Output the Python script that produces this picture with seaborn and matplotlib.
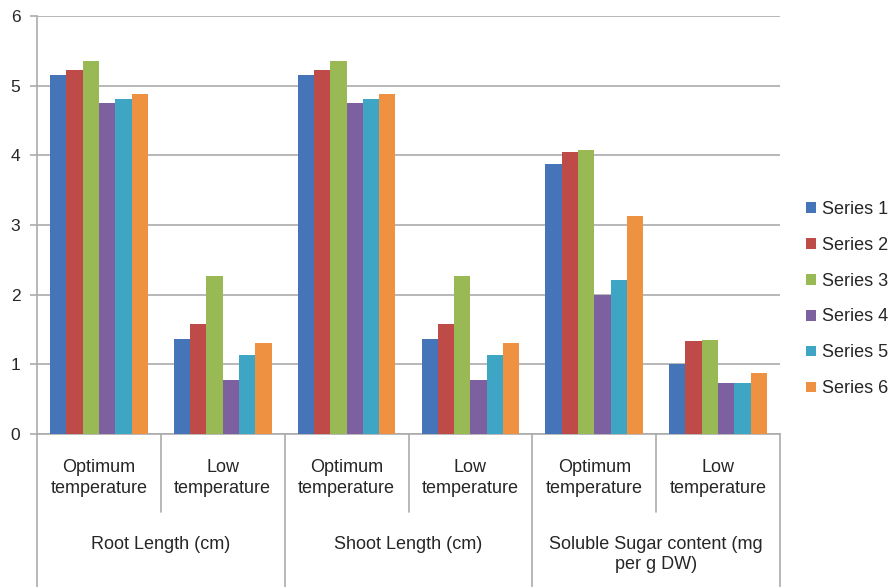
import numpy as np
import pandas as pd
import matplotlib
matplotlib.use("Agg")
import matplotlib.pyplot as plt
import matplotlib.transforms as mtransforms
import seaborn as sns

# Data
groups = ["Root Length (cm)", "Shoot Length (cm)", "Soluble Sugar content (mg\nper g DW)"]
conditions = ["Optimum\ntemperature", "Low\ntemperature"]
series_names = ["Series 1", "Series 2", "Series 3", "Series 4", "Series 5", "Series 6"]

series_1 = [5.16, 1.37, 5.16, 1.37, 3.87, 1.00]
series_2 = [5.22, 1.58, 5.22, 1.58, 4.05, 1.33]
series_3 = [5.35, 2.27, 5.35, 2.27, 4.07, 1.35]
series_4 = [4.75, 0.77, 4.75, 0.77, 2.00, 0.73]
series_5 = [4.81, 1.13, 4.81, 1.13, 2.21, 0.73]
series_6 = [4.88, 1.30, 4.88, 1.30, 3.13, 0.88]

colors = ["#4575B8", "#BE4B48", "#98B954", "#7D60A0", "#3EA6C4", "#EE9140"]

# Build long-form table
categories = [f"{g}|{c}" for g in groups for c in conditions]
all_series = [series_1, series_2, series_3, series_4, series_5, series_6]
rows = []
for name, vals in zip(series_names, all_series):
    for cat, v in zip(categories, vals):
        rows.append({"category": cat, "series": name, "value": v})
df = pd.DataFrame(rows)

sns.set_style("white")
plt.rcParams["font.family"] = ["Liberation Sans", "DejaVu Sans"]

W, H = 893, 587
left, right, top, bottom = 37, 780, 16, 434
fig = plt.figure(figsize=(W / 100, H / 100), dpi=100)
ax = fig.add_axes([left / W, 1 - bottom / H, (right - left) / W, (bottom - top) / H])

sns.barplot(data=df, x="category", y="value", hue="series", order=categories,
            hue_order=series_names, palette=colors, saturation=1, width=0.79,
            errorbar=None, linewidth=0, ax=ax, zorder=3)

grid_color = "#ABABAB"
ax.set_ylim(0, 6)
ax.set_xlim(-0.5, len(categories) - 0.5)
ax.set_yticks(range(0, 7))
ax.yaxis.grid(True, color=grid_color, linewidth=1.2, zorder=0)
ax.set_axisbelow(True)
ax.tick_params(axis="y", left=True, length=5, width=1.2, color=grid_color, pad=7, labelsize=12.5)
ax.tick_params(axis="x", bottom=False, labelbottom=False)
ax.set_xlabel("")
ax.set_ylabel("")
for side in ["top", "right"]:
    ax.spines[side].set_visible(False)
for side in ["left", "bottom"]:
    ax.spines[side].set_color(grid_color)
    ax.spines[side].set_linewidth(1.2)

# Two-level category axis
trans = mtransforms.blended_transform_factory(ax.transData, ax.transAxes)
axes_h = bottom - top
minor_bottom = -(512 - bottom) / axes_h
major_bottom = -(H - bottom) / axes_h
for i in range(len(categories) + 1):
    x = i - 0.5
    y_end = major_bottom if i % 2 == 0 else minor_bottom
    ax.plot([x, x], [0, y_end], transform=trans, color=grid_color,
            linewidth=1.2, clip_on=False)

for i, cat in enumerate(categories):
    cond = cat.split("|")[1]
    ax.text(i, -(478 - bottom) / axes_h, cond, transform=trans, ha="center",
            va="center", fontsize=13, linespacing=1.35, multialignment="center")

for j, g in enumerate(groups):
    ax.text(2 * j + 0.5, -(536 - bottom) / axes_h, g, transform=trans, ha="center",
            va="top", fontsize=13, linespacing=1.25, multialignment="center")

# Legend on the right
handles, labels = ax.get_legend_handles_labels()
ax.get_legend().remove()
fig.legend(handles, labels, loc="center left", bbox_to_anchor=(806 / W, 1 - 299 / H),
           frameon=False, fontsize=13, handlelength=0.55, handleheight=0.55,
           handletextpad=0.35, labelspacing=1.05, borderpad=0, borderaxespad=0)

fig.savefig("out.png", dpi=100)
